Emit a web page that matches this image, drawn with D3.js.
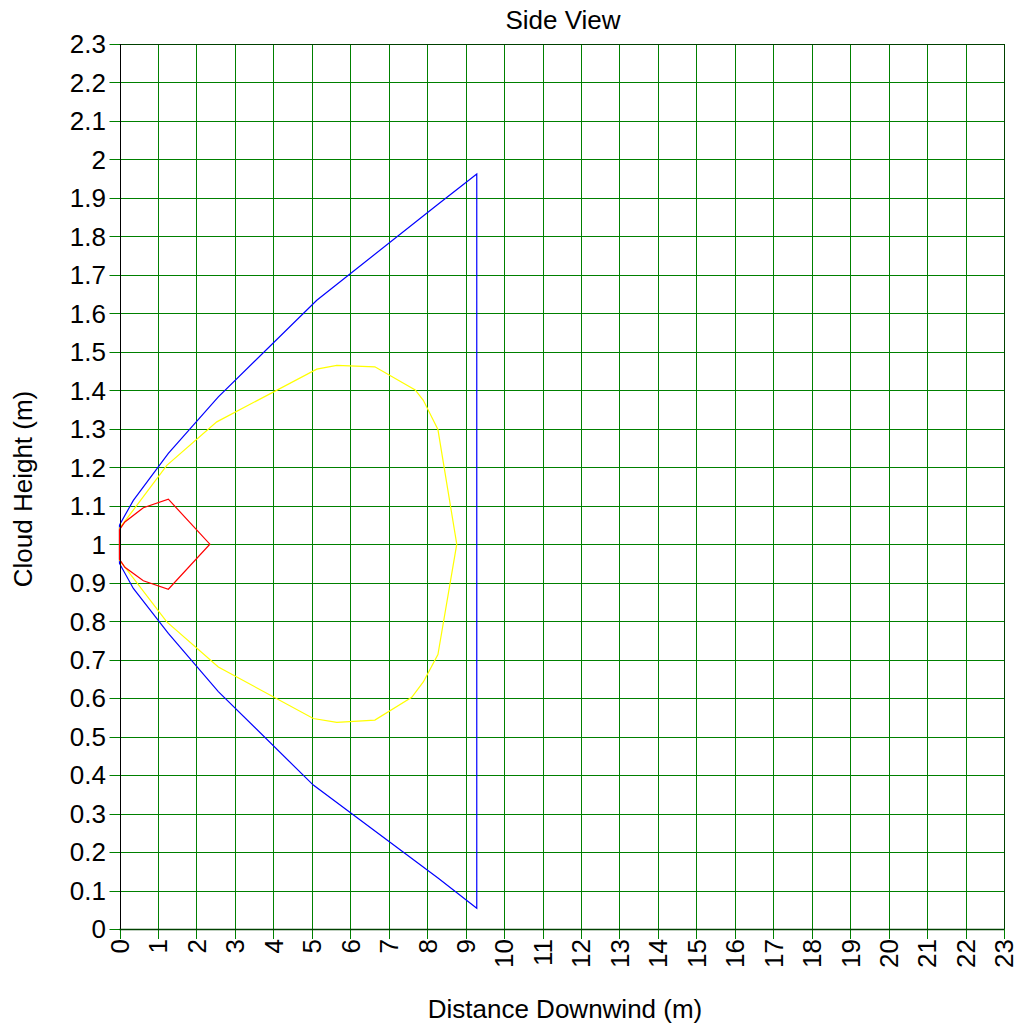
<!DOCTYPE html>
<html><head><meta charset="utf-8">
<script src="https://cdn.jsdelivr.net/npm/d3@7"></script>
<style>body{margin:0;background:#fff}svg{display:block}text{font-family:"Liberation Sans",Arial,sans-serif;fill:#000}</style>
</head><body><svg id="c" width="1034" height="1027"></svg>
<script>
const title = "Side View";
const xTitle = "Distance Downwind (m)";
const yTitle = "Cloud Height (m)";
const xTicks = d3.range(0, 24);
const yTicks = d3.range(0, 24).map(i => +(i / 10).toFixed(1));

// outer envelope (blue), closed polygon [distance, height]
const blueX = [0, 0.36, 1.27, 2.57, 5.13, 8.25, 9.29, 9.29, 8.29, 5.04, 2.57, 1.27, 0.36, 0, 0];
const blueY = [1.05, 1.114, 1.236, 1.383, 1.634, 1.881, 1.962, 0.054, 0.132, 0.374, 0.617, 0.768, 0.885, 0.95, 1.05];
// middle contour (yellow)
const yellowX = [0, 1.23, 2.53, 5.13, 5.65, 6.64, 7.69, 7.90, 8.28, 8.77, 8.28, 7.90, 7.60, 6.64, 5.65, 5.04, 2.57, 1.23, 0, 0];
const yellowY = [1.041, 1.205, 1.318, 1.455, 1.465, 1.461, 1.401, 1.374, 1.298, 1.0, 0.713, 0.642, 0.602, 0.543, 0.537, 0.547, 0.681, 0.798, 0.959, 1.041];
// inner contour (red)
const redX = [0, 0.14, 0.62, 1.27, 2.35, 1.27, 0.62, 0.14, 0, 0];
const redY = [1.038, 1.058, 1.095, 1.117, 1.0, 0.883, 0.905, 0.94, 0.961, 1.038];

const series = [
  {xs: blueX, ys: blueY, color: "#0000ff"},
  {xs: yellowX, ys: yellowY, color: "#ffff00"},
  {xs: redX, ys: redY, color: "#ff0000"}
];

const L = 119.5, R = 1004, T = 44, B = 929;
const FS = 26;
const x = d3.scaleLinear().domain([0, 23]).range([L, R]);
const y = d3.scaleLinear().domain([0, 2.3]).range([B, T]);
const svg = d3.select("#c");
const g = svg.append("g");

// grid
g.selectAll(".vg").data(xTicks).join("line")
  .attr("x1", d => Math.round(x(d)) + 0.5).attr("x2", d => Math.round(x(d)) + 0.5)
  .attr("y1", T).attr("y2", B + 10).attr("stroke", "#008000").attr("stroke-width", 1);
g.selectAll(".hg").data(yTicks).join("line")
  .attr("y1", d => Math.round(y(d)) + 0.5).attr("y2", d => Math.round(y(d)) + 0.5)
  .attr("x1", L - 10).attr("x2", R).attr("stroke", "#008000").attr("stroke-width", 1);
// frame
g.append("line").attr("x1", L).attr("x2", R).attr("y1", Math.round(T)+0.5).attr("y2", Math.round(T)+0.5).attr("stroke", "#004000");
g.append("line").attr("x1", Math.round(R)+0.5).attr("x2", Math.round(R)+0.5).attr("y1", T).attr("y2", B).attr("stroke", "#004000");

// series
const line = d3.line().x(d => x(d[0])).y(d => y(d[1]));
series.forEach(s => {
  g.append("path").datum(s.xs.map((v, i) => [v, s.ys[i]]))
    .attr("d", line).attr("fill", "none").attr("stroke", s.color).attr("stroke-width", 1.2);
});

// axes lines
g.append("line").attr("x1", Math.round(L)+0.5).attr("x2", Math.round(L)+0.5).attr("y1", T).attr("y2", B).attr("stroke", "#000");
g.append("line").attr("x1", L).attr("x2", R).attr("y1", Math.round(B)+0.5).attr("y2", Math.round(B)+0.5).attr("stroke", "#004000").attr("stroke-width", 1.5);

// labels
g.selectAll(".yl").data(yTicks).join("text")
  .attr("x", 106).attr("y", d => y(d)).attr("dy", "0.36em")
  .attr("text-anchor", "end").attr("font-size", FS).text(d => d);
g.selectAll(".xl").data(xTicks).join("text")
  .attr("transform", d => `translate(${x(d)},${B + 10}) rotate(-90)`)
  .attr("dy", "0.36em").attr("text-anchor", "end").attr("font-size", FS).text(d => d);

svg.append("text").attr("x", 563).attr("y", 29).attr("text-anchor", "middle").attr("font-size", FS).text(title);
svg.append("text").attr("x", 565).attr("y", 1018).attr("text-anchor", "middle").attr("font-size", FS).text(xTitle);
svg.append("text").attr("transform", `translate(32,489) rotate(-90)`).attr("text-anchor", "middle").attr("font-size", FS).text(yTitle);
</script></body></html>
